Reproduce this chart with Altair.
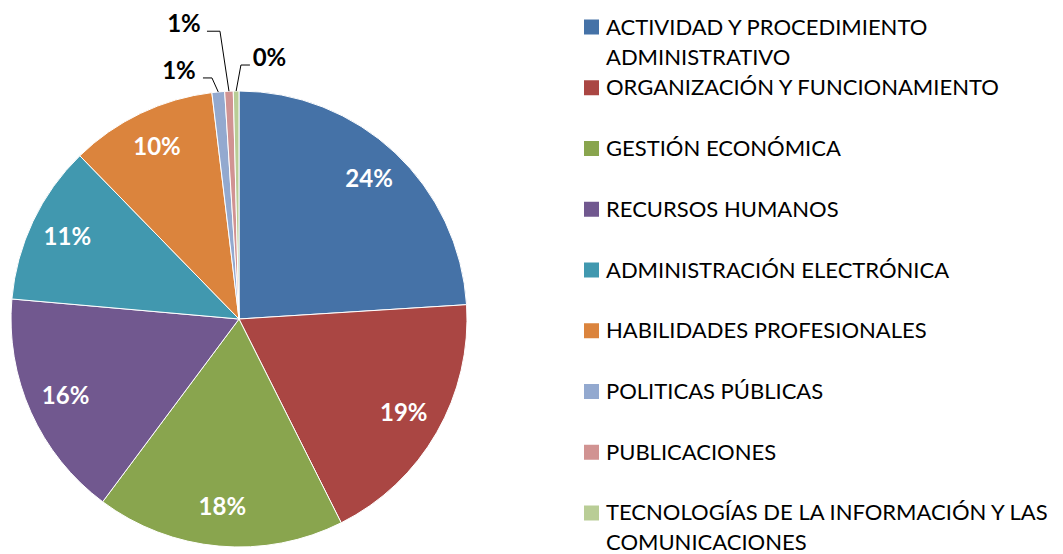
import altair as alt
import pandas as pd

categories = [
    "ACTIVIDAD Y PROCEDIMIENTO ADMINISTRATIVO",
    "ORGANIZACIÓN Y FUNCIONAMIENTO",
    "GESTIÓN ECONÓMICA",
    "RECURSOS HUMANOS",
    "ADMINISTRACIÓN ELECTRÓNICA",
    "HABILIDADES PROFESIONALES",
    "POLITICAS PÚBLICAS",
    "PUBLICACIONES",
    "TECNOLOGÍAS DE LA INFORMACIÓN Y LAS COMUNICACIONES",
]
legend_labels = [
    "ACTIVIDAD Y PROCEDIMIENTO\nADMINISTRATIVO",
    "ORGANIZACIÓN Y FUNCIONAMIENTO",
    "GESTIÓN ECONÓMICA",
    "RECURSOS HUMANOS",
    "ADMINISTRACIÓN ELECTRÓNICA",
    "HABILIDADES PROFESIONALES",
    "POLITICAS PÚBLICAS",
    "PUBLICACIONES",
    "TECNOLOGÍAS DE LA INFORMACIÓN Y LAS\nCOMUNICACIONES",
]
values = [24.0, 18.6, 17.6, 16.2, 11.3, 10.4, 0.9, 0.6, 0.4]
colors = ["#4572A7", "#AA4643", "#89A54E", "#71588F", "#4198AF",
          "#DB843D", "#93A9CF", "#D19392", "#B9CD96"]

# callout styling for the tiny slices: elbow dx, elbow dy, line end dx, label dx
CALLOUTS = {
    6: (-6.3, -14, -15.3, -39.3),
    7: (-9, -60, -22, -45),
    8: (4.8, -26, 13.8, 33.3),
}

CX, CY, R = 231, 311, 228
FONT = "Lato"

rows = []
for i, (c, v, lab) in enumerate(zip(categories, values, legend_labels)):
    co = CALLOUTS.get(i)
    rows.append({
        "cat": c, "idx": i, "value": v, "legend": lab,
        "has_callout": co is not None,
        "edx": co[0] if co else 0, "edy": co[1] if co else 0,
        "enddx": co[2] if co else 0, "ldx": co[3] if co else 0,
    })
df = pd.DataFrame(rows)

color_scale = alt.Scale(domain=categories, range=colors)

base = alt.Chart(df).transform_joinaggregate(
    total="sum(value)"
).transform_calculate(
    pct="datum.value / datum.total",
    label="datum.value >= 2 ? format(datum.value / datum.total, '.0%') : ''",
)

arcs = base.mark_arc(outerRadius=R, stroke="white", strokeWidth=1).encode(
    theta=alt.Theta("value:Q", stack=True),
    color=alt.Color("cat:N", scale=color_scale, legend=None),
    order=alt.Order("idx:Q"),
    x=alt.value(CX),
    y=alt.value(CY),
)

inside = base.mark_text(
    radius=190, fontSize=24, fontWeight="bold", color="white", font=FONT
).encode(
    theta=alt.Theta("value:Q", stack=True),
    order=alt.Order("idx:Q"),
    text=alt.Text("label:N"),
    x=alt.value(CX),
    y=alt.value(CY),
)

callbase = base.transform_window(
    cum="sum(value)", sort=[alt.SortField("idx")], frame=[None, 0]
).transform_calculate(
    mid="(datum.cum - datum.value / 2) / datum.total * 2 * PI",
).transform_calculate(
    px=f"{CX} + {R} * sin(datum.mid)",
    py=f"{CY} - {R} * cos(datum.mid)",
).transform_calculate(
    ex="datum.px + datum.edx",
    ey="datum.py + datum.edy",
    endx="datum.px + datum.enddx",
    lx="datum.px + datum.ldx",
).transform_filter("datum.has_callout")

seg1 = callbase.mark_rule(color="black", strokeWidth=1).encode(
    x=alt.X("endx:Q", scale=None), x2="ex:Q",
    y=alt.Y("ey:Q", scale=None), y2="ey:Q",
)
seg2 = callbase.mark_rule(color="black", strokeWidth=1).encode(
    x=alt.X("ex:Q", scale=None), x2="px:Q",
    y=alt.Y("ey:Q", scale=None), y2="py:Q",
)
outside = callbase.mark_text(
    fontSize=24, fontWeight="bold", color="black", font=FONT,
    align="center", baseline="alphabetic", dy=1,
).encode(
    x=alt.X("lx:Q", scale=None),
    y=alt.Y("ey:Q", scale=None),
    text=alt.Text("label2:N"),
).transform_calculate(label2="format(datum.pct, '.0%')")

pie = alt.layer(arcs, inside, seg1, seg2, outside).properties(width=560, height=540)

leg_y = alt.Y("idx:O", scale=alt.Scale(type="point", padding=0.3128), axis=None)
leg_sq = alt.Chart(df).mark_square(size=225, opacity=1).encode(
    x=alt.value(23.5),
    y=leg_y,
    color=alt.Color("cat:N", scale=color_scale, legend=None),
)
leg_tx = alt.Chart(df).mark_text(
    align="left", baseline="alphabetic", dy=7.5, fontSize=22, font=FONT,
    lineBreak="\n", lineHeight=30, color="black",
).encode(
    x=alt.value(38),
    y=leg_y,
    text="legend:N",
)
legend = alt.layer(leg_sq, leg_tx).properties(width=487, height=524)

chart = alt.hconcat(pie, legend, spacing=0).properties(
    padding=0
).configure_view(strokeWidth=0)

chart.save("out.html", embed_options={"renderer": "svg", "actions": False})
